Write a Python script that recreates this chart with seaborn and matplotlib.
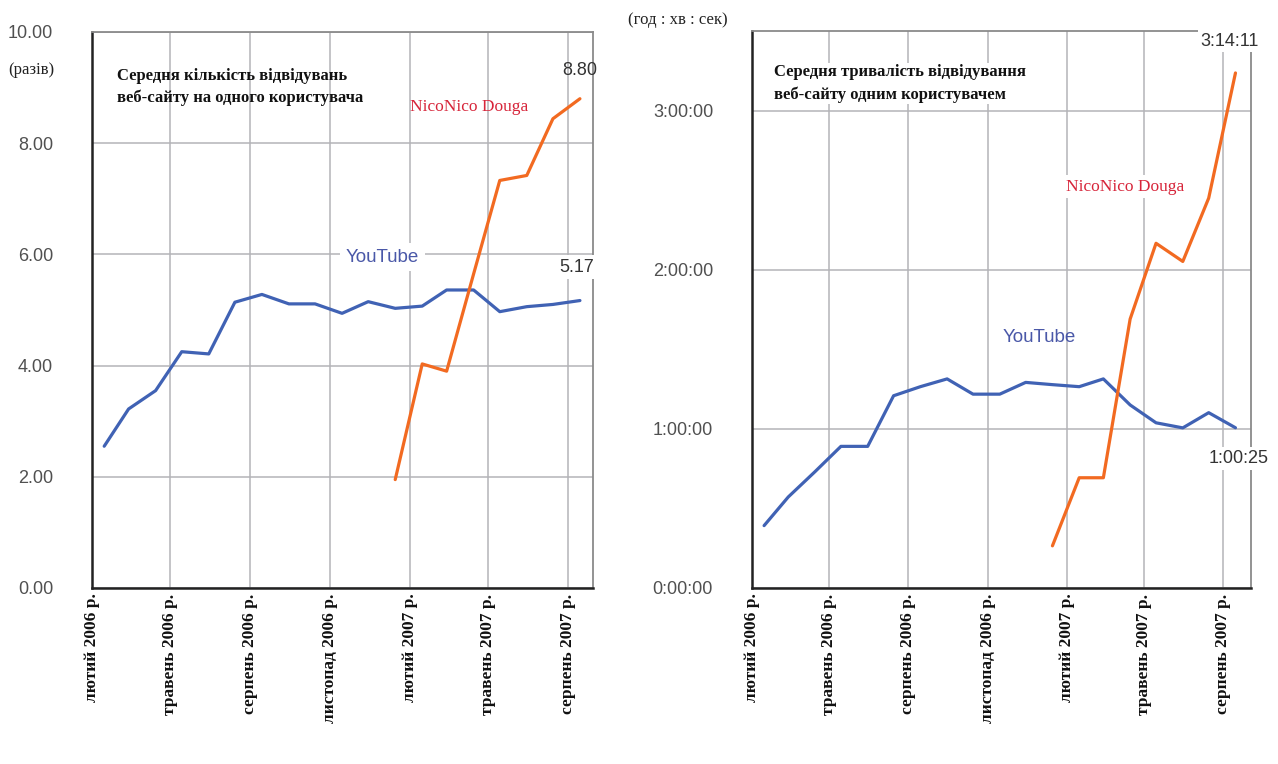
import matplotlib
matplotlib.use("Agg")
import matplotlib.pyplot as plt
import matplotlib.ticker as mticker
import seaborn as sns
import pandas as pd

# ---- data ----
months = ["2006-02", "2006-03", "2006-04", "2006-05", "2006-06", "2006-07", "2006-08",
          "2006-09", "2006-10", "2006-11", "2006-12", "2007-01", "2007-02", "2007-03",
          "2007-04", "2007-05", "2007-06", "2007-07", "2007-08"]

youtube_visits = [2.55, 3.22, 3.55, 4.25, 4.21, 5.14, 5.28, 5.11, 5.11, 4.94, 5.15, 5.03,
                  5.07, 5.36, 5.36, 4.97, 5.06, 5.10, 5.17]
nico_visits = [None] * 11 + [1.95, 4.03, 3.90, 5.65, 7.33, 7.42, 8.44, 8.80]

youtube_secs = [1411, 2059, 2632, 3204, 3204, 4349, 4554, 4730, 4385, 4385, 4651, 4600,
                4554, 4730, 4141, 3737, 3622, 3966, 3625]
nico_secs = [None] * 11 + [954, 2494, 2494, 6084, 7798, 7387, 8820, 11651]

tick_months = ["2006-02", "2006-05", "2006-08", "2006-11", "2007-02", "2007-05", "2007-08"]
tick_labels = ["лютий 2006 р.", "травень 2006 р.", "серпень 2006 р.", "листопад 2006 р.",
               "лютий 2007 р.", "травень 2007 р.", "серпень 2007 р."]

left_title = "Середня кількість відвідувань\nвеб-сайту на одного користувача"
right_title = "Середня тривалість відвідування\nвеб-сайту одним користувачем"
left_unit = "(разів)"
right_unit = "(год : хв : сек)"
yt_name = "YouTube"
nico_name = "NicoNico Douga"
left_yticks = [0, 2, 4, 6, 8, 10]
right_yticks = [0, 3600, 7200, 10800]

# ---- frames ----
dates = pd.to_datetime(months) + pd.Timedelta(days=14)
df = pd.DataFrame({
    "date": list(dates) * 2,
    "visits": youtube_visits + nico_visits,
    "secs": youtube_secs + nico_secs,
    "site": [yt_name] * len(months) + [nico_name] * len(months),
})
df["visits"] = pd.to_numeric(df["visits"])
df["secs"] = pd.to_numeric(df["secs"])

sns.set_theme(style="white")
plt.rcParams["font.family"] = ["Liberation Sans", "DejaVu Sans"]
SERIF = ["Liberation Serif", "DejaVu Serif"]

BLUE = "#4062b4"
ORANGE = "#f26a21"
RED = "#d7253a"
GRID = "#b4b4b8"
palette = {yt_name: BLUE, nico_name: ORANGE}

fig = plt.figure(figsize=(12.78, 7.64), dpi=100)
axL = fig.add_axes([92 / 1278, 1 - 588 / 764, 501 / 1278, 556 / 764])
axR = fig.add_axes([752 / 1278, 1 - 588 / 764, 499 / 1278, 557 / 764])

def hms(v, pos=None):
    v = int(round(v))
    return f"{v // 3600}:{(v % 3600) // 60:02d}:{v % 60:02d}"

for ax, col, xr_days in ((axL, "visits", 29), (axR, "secs", 32)):
    sns.lineplot(data=df.dropna(subset=[col]), x="date", y=col, hue="site",
                 palette=palette, linewidth=2.3, ax=ax, legend=False, estimator=None)
    ax.set_xlim(pd.Timestamp("2006-02-01"), pd.Timestamp("2007-08-01") + pd.Timedelta(days=xr_days))
    ax.set_xticks(pd.to_datetime(tick_months))
    ax.set_xticklabels(tick_labels, rotation=90, ha="center", va="top",
                       family=SERIF, fontsize=12.5, fontweight="bold",
                       color="#111111")
    ax.set_xlabel("")
    ax.set_ylabel("")
    ax.grid(True, color=GRID, linewidth=1.1)
    ax.set_axisbelow(True)
    for s in ("left", "bottom"):
        ax.spines[s].set_color("#222222")
        ax.spines[s].set_linewidth(1.8)
    for s in ("top", "right"):
        ax.spines[s].set_color("#8a8a8a")
        ax.spines[s].set_linewidth(1.3)
    ax.tick_params(axis="both", direction="in", length=5, width=1.3, color="#222222")
    ax.tick_params(axis="y", labelsize=13, labelcolor="#505050", pad=28)
    ax.tick_params(axis="x", pad=4)

# left panel
axL.set_ylim(0, 10)
axL.set_yticks(left_yticks)
axL.yaxis.set_major_formatter(mticker.FormatStrFormatter("%.2f"))
fig.text(8 / 1278, 1 - 70 / 764, left_unit, fontsize=12, color="#222222",
         family=SERIF, va="center", ha="left")
axL.text(0.05, 0.935, left_title, transform=axL.transAxes, fontsize=12,
         family=SERIF, va="top", ha="left", fontweight="bold",
         color="#111111", linespacing=1.45)
axL.text(0.635, 0.865, nico_name, transform=axL.transAxes, fontsize=12.5,
         family=SERIF, va="center", ha="left", color=RED)
axL.text(0.58, 0.595, yt_name, transform=axL.transAxes, fontsize=13.5,
         va="center", ha="center", color="#4a58a8",
         bbox=dict(boxstyle="square,pad=0.3", fc="white", ec="none"))
axL.annotate(f"{nico_visits[-1]:.2f}", (dates[-1], nico_visits[-1]), xytext=(0, 20),
             textcoords="offset points", ha="center", va="center", fontsize=13,
             color="#333333")
axL.annotate(f"{youtube_visits[-1]:.2f}", (dates[-1], youtube_visits[-1]), xytext=(-2, 24),
             textcoords="offset points", ha="center", va="center", fontsize=13,
             color="#333333", bbox=dict(boxstyle="square,pad=0.2", fc="white", ec="none"))

# right panel
axR.set_ylim(0, 12600)
axR.set_yticks(right_yticks)
axR.yaxis.set_major_formatter(mticker.FuncFormatter(hms))
fig.text(678 / 1278, 1 - 20 / 764, right_unit, fontsize=12, color="#222222",
         family=SERIF, va="center", ha="center")
axR.text(0.045, 0.94, right_title, transform=axR.transAxes, fontsize=12,
         family=SERIF, va="top", ha="left", fontweight="bold",
         color="#111111", linespacing=1.45,
         bbox=dict(boxstyle="square,pad=0.1", fc="white", ec="none"))
axR.text(0.63, 0.72, nico_name, transform=axR.transAxes, fontsize=12.5,
         family=SERIF, va="center", ha="left", color=RED,
         bbox=dict(boxstyle="square,pad=0.2", fc="white", ec="none"))
axR.text(0.575, 0.45, yt_name, transform=axR.transAxes, fontsize=13.5,
         va="center", ha="center", color="#4a58a8")
axR.annotate(hms(nico_secs[-1]), (dates[-1], nico_secs[-1]), xytext=(-4, 23),
             textcoords="offset points", ha="center", va="center", fontsize=13,
             color="#333333", annotation_clip=False,
             bbox=dict(boxstyle="square,pad=0.15", fc="white", ec="none"))
axR.annotate(hms(youtube_secs[-1]), (dates[-1], youtube_secs[-1]), xytext=(2, -22),
             textcoords="offset points", ha="center", va="center", fontsize=13,
             color="#333333", annotation_clip=False,
             bbox=dict(boxstyle="square,pad=0.15", fc="white", ec="none"))

fig.savefig("out.png", dpi=100, facecolor="white")
